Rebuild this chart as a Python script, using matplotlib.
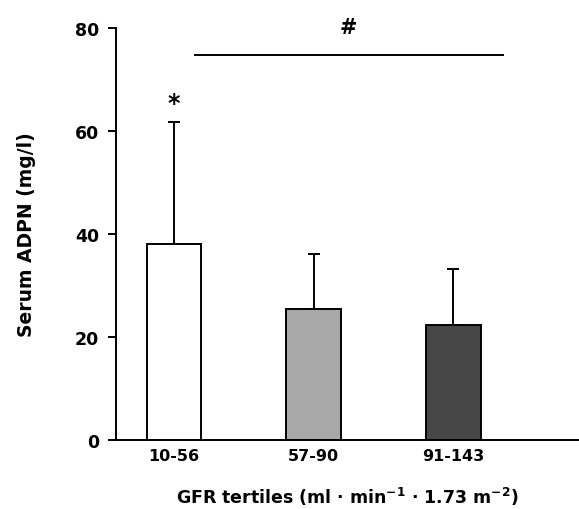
import matplotlib
matplotlib.use("Agg")
import matplotlib.pyplot as plt

plt.rcParams['font.family'] = ['DejaVu Sans']
plt.rcParams['font.weight'] = 'bold'
plt.rcParams['mathtext.default'] = 'bf'

categories = ["10-56", "57-90", "91-143"]
means = [38.1, 25.4, 22.2]
sd_upper = [23.6, 10.7, 11.0]
colors = ["#ffffff", "#a8a8a8", "#474747"]
yticks = [0, 20, 40, 60, 80]

fig = plt.figure(figsize=(5.79, 5.10), dpi=100)
ax = fig.add_axes([0.2003, 0.136, 0.7997, 0.807])

x = list(range(len(categories)))
ax.bar(x, means, width=0.394, color=colors, edgecolor="black", linewidth=1.4, zorder=2)
ax.errorbar(x, means, yerr=[[0]*3, sd_upper], fmt="none", ecolor="black",
            elinewidth=1.4, capsize=4, capthick=1.4, zorder=1)

ax.set_xlim(-0.416, 2.903)
ax.set_ylim(0, 80)
ax.set_yticks(yticks)
ax.set_xticks(x)
ax.set_xticklabels(categories, fontsize=11.5, fontweight='bold')
ax.tick_params(axis='x', length=0, pad=6)
ax.tick_params(axis='y', length=6, width=1.4, labelsize=12.5, pad=6)
for lab in ax.get_yticklabels():
    lab.set_fontweight('bold')

ax.spines['top'].set_visible(False)
ax.spines['right'].set_visible(False)
ax.spines['left'].set_linewidth(1.4)
ax.spines['bottom'].set_linewidth(1.4)

# significance annotations
ax.plot([0.15, 2.36], [74.7, 74.7], color="black", lw=1.4, clip_on=False)
ax.text(1.25, 80.3, "#", ha="center", va="center", fontsize=15, fontweight='bold', clip_on=False)
ax.text(0, 65.5, "*", ha="center", va="center", fontsize=17, fontweight='bold')

ax.set_ylabel("Serum ADPN (mg/l)", fontsize=13.5, fontweight='bold', labelpad=28)
ax.set_xlabel(r"GFR tertiles (ml · min$^{-1}$ · 1.73 m$^{-2}$)", fontsize=12.5,
              fontweight='bold', labelpad=16)

fig.savefig("out.png", dpi=100)
